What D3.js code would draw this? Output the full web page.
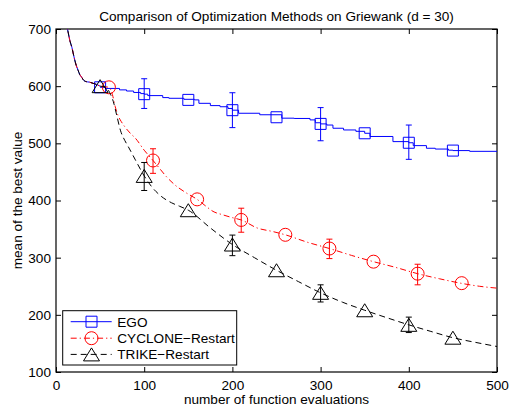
<!DOCTYPE html>
<html><head><meta charset="utf-8">
<script src="https://cdn.jsdelivr.net/npm/d3@7/dist/d3.min.js"></script>
<style>
body{margin:0;background:#fff}
text{font-family:"Liberation Sans",Arial,Helvetica,sans-serif;fill:#000}
</style>
</head><body>
<svg id="chart" width="511" height="411"></svg>
<script>
// ---------- data ----------
const title = "Comparison of Optimization Methods on Griewank (d = 30)";
const xLabel = "number of function evaluations";
const yLabel = "mean of the best value";
const xTicks = [0, 100, 200, 300, 400, 500];
const yTicks = [100, 200, 300, 400, 500, 600, 700];
const seriesNames = ["EGO", "CYCLONE\u2212Restart", "TRIKE\u2212Restart"];

// shared initial design phase (all methods identical)
const initX = [0, 8, 13, 16, 18, 20, 23, 25, 27, 29, 31, 34, 38, 42, 46, 50];
const initY = [800, 730, 700, 678, 668, 654, 636, 628, 620, 616, 611, 608, 607, 605, 603, 600];

// EGO (step curve)
const egoX = [50, 56, 72, 80, 88, 96, 100, 104, 121, 128, 145, 157, 162, 175, 186, 195, 200, 207, 231, 256, 270, 288, 294, 300, 307, 314, 326, 340, 350, 356, 382, 400, 405, 420, 430, 445, 450, 469, 500];
const egoY = [598, 596, 593.5, 591.5, 589, 587, 586, 583.5, 580, 578.8, 577, 576, 570, 566, 564, 561, 558, 552.6, 550, 544, 543.5, 541, 536, 534, 532, 526.4, 523.4, 521, 517.6, 512, 503, 501, 496, 491.4, 490, 488, 487.3, 486, 485.5];
const egoMarkX = [50, 100, 150, 200, 250, 300, 350, 400, 450];
const egoMarkY = [598, 586, 576, 558, 545.6, 534, 517.6, 501, 487.3];
const egoErrX = [100, 200, 300, 400];
const egoErrY = [587, 558, 533.5, 502];
const egoErr = [26, 30.5, 29, 30];

// CYCLONE-Restart
const cycX = [55, 60, 62, 64, 67, 70, 74, 78, 84, 90, 100, 110, 118, 125, 135, 148, 160, 170, 178, 189, 200, 210, 228, 246, 260, 285, 310, 335, 360, 385, 410, 435, 460, 480, 500];
const cycY = [599, 598, 594, 585, 565, 550, 538, 529, 518, 509, 488, 470, 455, 442, 427, 413, 402, 390, 381, 375, 370, 366, 352, 345.6, 340, 327, 316, 304, 293, 283, 272, 263, 255, 250, 246.7];
const cycMarkX = [60, 110, 160, 210, 260, 310, 360, 410, 460];
const cycMarkY = [598, 470, 402, 366, 340, 316, 293, 272, 255.4];
const cycErrX = [110, 210, 310, 410];
const cycErrY = [469, 365.5, 315.4, 270.5];
const cycErr = [21.5, 21, 17, 18];

// TRIKE-Restart
const triX = [55, 58, 62, 65, 69, 73, 78, 82, 90, 100, 108, 118, 131, 140, 150, 175, 200, 225, 250, 275, 300, 325, 350, 375, 400, 425, 450, 475, 500];
const triY = [599, 596, 585, 573, 548, 523, 505, 494, 471, 443, 425, 409, 396, 390, 383, 352, 323, 300, 278, 258, 238.5, 222, 208, 195, 182.5, 171, 160, 152, 144.6];
const triMarkX = [50, 100, 150, 200, 250, 300, 350, 400, 450];
const triMarkY = [600, 443, 383, 323, 278, 238.5, 208, 182.5, 160];
const triErrX = [100, 200, 300, 400];
const triErrY = [442, 321.5, 237.5, 182.5];
const triErr = [24.5, 18, 15, 13.5];

// ---------- layout ----------
const W = 511, H = 411;
const L = 56, R = 497, T = 29, B = 372;
const FS = 13.6;

const svg = d3.select("#chart");
const x = d3.scaleLinear().domain([0, 500]).range([L, R]);
const y = d3.scaleLinear().domain([100, 700]).range([B, T]);

svg.append("defs").append("clipPath").attr("id", "clip")
  .append("rect").attr("x", L).attr("y", T).attr("width", R - L).attr("height", B - T);

// axes (inward ticks, MATLAB box)
const ax = (g, gen) => { g.call(gen); g.select(".domain").remove();
  g.selectAll("line").attr("stroke", "#000").attr("stroke-width", 1);
  g.selectAll("text").attr("font-size", FS).attr("fill", "#000")
    .attr("font-family", "Liberation Sans, Arial, sans-serif"); };

svg.append("g").attr("transform", `translate(0,${B})`)
  .call(g => ax(g, d3.axisBottom(x).tickValues(xTicks).tickSizeInner(-5).tickSizeOuter(0).tickPadding(8).tickFormat(d3.format("d"))));
svg.append("g").attr("transform", `translate(0,${T})`)
  .call(g => ax(g, d3.axisTop(x).tickValues(xTicks).tickSizeInner(-5).tickSizeOuter(0).tickFormat("")));
svg.append("g").attr("transform", `translate(${L},0)`)
  .call(g => ax(g, d3.axisLeft(y).tickValues(yTicks).tickSizeInner(-5).tickSizeOuter(0).tickPadding(5).tickFormat(d3.format("d"))));
svg.append("g").attr("transform", `translate(${R},0)`)
  .call(g => ax(g, d3.axisRight(y).tickValues(yTicks).tickSizeInner(-5).tickSizeOuter(0).tickFormat("")));

svg.append("rect").attr("x", L).attr("y", T).attr("width", R - L).attr("height", B - T)
  .attr("fill", "none").attr("stroke", "#000").attr("stroke-width", 1.2);

// labels
svg.append("text").attr("x", (L + R) / 2).attr("y", 20.5).attr("text-anchor", "middle")
  .attr("font-size", FS).text(title);
svg.append("text").attr("x", (L + R) / 2).attr("y", 404).attr("text-anchor", "middle")
  .attr("font-size", FS).text(xLabel);
svg.append("text").attr("transform", `translate(21.5,${(T + B) / 2}) rotate(-90)`)
  .attr("text-anchor", "middle").attr("font-size", FS).text(yLabel);

// ---------- marker shapes ----------
const shapes = {
  square: "M-5.5,-5.5H5.5V5.5H-5.5Z",
  circle: "M6.5,0A6.5,6.5 0 1 1 -6.5,0A6.5,6.5 0 1 1 6.5,0Z",
  triangle: "M0,-6.5L8,6.5H-8Z"
};

const series = [
  { name: seriesNames[0], color: "#0000ff", dash: null, shape: "square",
    lx: egoX, ly: egoY, curve: d3.curveStepAfter,
    mx: egoMarkX, my: egoMarkY, ex: egoErrX, ey: egoErrY, ee: egoErr },
  { name: seriesNames[1], color: "#ff0000", dash: "6,3,1.2,3", shape: "circle",
    lx: cycX, ly: cycY, curve: d3.curveMonotoneX,
    mx: cycMarkX, my: cycMarkY, ex: cycErrX, ey: cycErrY, ee: cycErr },
  { name: seriesNames[2], color: "#000000", dash: "6,4", shape: "triangle",
    lx: triX, ly: triY, curve: d3.curveMonotoneX,
    mx: triMarkX, my: triMarkY, ex: triErrX, ey: triErrY, ee: triErr }
];

const plot = svg.append("g").attr("clip-path", "url(#clip)");

series.forEach((s, si) => {
  const g = plot.append("g");
  const initPts = initX.map((v, i) => [v, initY[i]]);
  const pts = s.lx.map((v, i) => [v, s.ly[i]]);
  const lineLin = d3.line().x(d => x(d[0])).y(d => y(d[1])).curve(d3.curveMonotoneX);
  let d;
  if (si === 0) {
    g.append("path").attr("d", lineLin(initPts))
      .attr("fill", "none").attr("stroke", s.color).attr("stroke-width", 1);
    d = d3.line().x(p => x(p[0])).y(p => y(p[1])).curve(s.curve)(pts);
  } else {
    d = lineLin(initPts.concat(pts));
  }
  g.append("path").attr("d", d).attr("fill", "none").attr("stroke", s.color)
    .attr("stroke-width", 1).attr("stroke-dasharray", s.dash);

  // error bars
  s.ex.forEach((ex, i) => {
    const cx = x(ex), y1 = y(s.ey[i] + s.ee[i]), y2 = y(s.ey[i] - s.ee[i]);
    g.append("line").attr("x1", cx).attr("x2", cx).attr("y1", y1).attr("y2", y2)
      .attr("stroke", s.color).attr("stroke-width", 1);
    [y1, y2].forEach(yy => g.append("line").attr("x1", cx - 3).attr("x2", cx + 3)
      .attr("y1", yy).attr("y2", yy).attr("stroke", s.color).attr("stroke-width", 1));
  });

  // markers
  s.mx.forEach((mx, i) => {
    g.append("path").attr("d", shapes[s.shape])
      .attr("transform", `translate(${x(mx)},${y(s.my[i])})`)
      .attr("fill", "none").attr("stroke", s.color).attr("stroke-width", 1);
  });
});

// ---------- legend ----------
const lg = svg.append("g");
lg.append("rect").attr("x", 62.7).attr("y", 310.7).attr("width", 174).attr("height", 54.3)
  .attr("fill", "#fff").attr("stroke", "#000").attr("stroke-width", 1);
const rowY = [321.7, 338.2, 354.4];
series.forEach((s, i) => {
  const yy = rowY[i];
  lg.append("line").attr("x1", 70.7).attr("x2", 111.7).attr("y1", yy).attr("y2", yy)
    .attr("stroke", s.color).attr("stroke-width", 1).attr("stroke-dasharray", s.dash);
  lg.append("path").attr("d", shapes[s.shape]).attr("transform", `translate(91.5,${yy})`)
    .attr("fill", "none").attr("stroke", s.color).attr("stroke-width", 1);
  lg.append("text").attr("x", 117.3).attr("y", yy).attr("dy", "0.36em")
    .attr("font-size", FS).text(s.name);
});
</script>
</body></html>
